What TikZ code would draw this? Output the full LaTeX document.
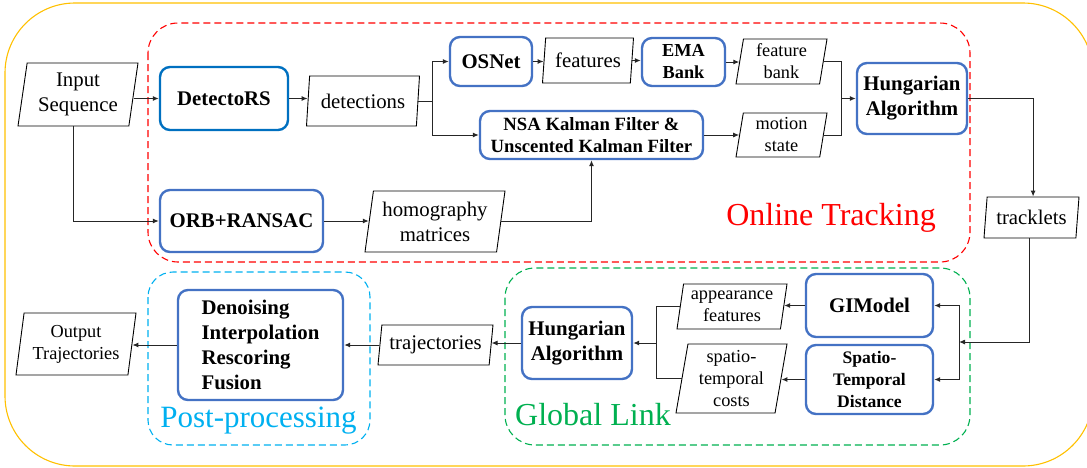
\documentclass[tikz,border=0pt]{standalone}
\usepackage{fontspec}
\setmainfont{Liberation Serif}
\usetikzlibrary{shapes.geometric,arrows.meta,calc}
\definecolor{boxblue}{HTML}{4472C4}
\definecolor{detblue}{HTML}{0070C0}
\definecolor{ored}{HTML}{FF0000}
\definecolor{ggreen}{HTML}{00B050}
\definecolor{pcyan}{HTML}{00B0F0}
\definecolor{oyellow}{HTML}{FFC000}
\newcommand{\fbig}{\fontsize{20.8}{25}\selectfont}
\newcommand{\fsml}{\fontsize{18.3}{22}\selectfont}
\newcommand{\fnsa}{\fontsize{18.7}{22}\selectfont}
\newcommand{\fhuge}{\fontsize{32}{38}\selectfont}
\begin{document}
\begin{tikzpicture}[x=1pt,y=-1pt,
 proc/.style={draw=boxblue, line width=2.4pt, rounded corners=10pt, fill=white, align=center, inner sep=0pt, font=\fbig\bfseries},
 io/.style={draw=black, line width=0.9pt, trapezium, trapezium left angle=78, trapezium right angle=102, trapezium stretches body=true, align=center, inner sep=0pt, font=\fbig},
 arr/.style={-{Latex[length=6pt,width=5pt]}, line width=1pt, draw=black!85},
 ln/.style={line width=1pt, draw=black!85},
 region/.style={dash pattern=on 7pt off 4pt, line width=1.1pt, rounded corners=30pt}
]
\useasboundingbox (0,0) rectangle (1087,467);
% regions
\draw[oyellow, line width=1.1pt, rounded corners=70pt] (5,3) rectangle (1093,466);
\draw[region, ored] (148,23) rectangle (970,262);
\draw[region, ggreen] (505,268) rectangle (970,445);
\draw[region, pcyan, rounded corners=25pt] (148,272) rectangle (370,445);
% labels
\node[font=\fhuge, text=ored, anchor=base, inner sep=0pt] (lonline) at (831,225) {Online Tracking};
\node[font=\fhuge, text=ggreen, anchor=base west, inner sep=0pt] (lglobal) at (515,425) {Global Link};
\node[font=\fontsize{31}{36}\selectfont, text=pcyan, anchor=base, inner sep=0pt] (lpost) at (258.5,427) {Post-processing};
% online tracking nodes
\node[io, minimum width=120pt, minimum height=63pt] (inseq) at (78,94.5) {Input\\Sequence};
\node[proc, draw=detblue, minimum width=128pt, minimum height=63pt] (det) at (224,98.5) {DetectoRS};
\node[proc, minimum width=163pt, minimum height=62pt] (orb) at (241.5,221) {ORB+RANSAC};
\node[io, minimum width=113pt, minimum height=50pt] (dets) at (363,101) {detections};
\node[io, minimum width=140pt, minimum height=61pt] (hom) at (435,221.5) {homography\\matrices};
\node[proc, minimum width=82pt, minimum height=49pt] (osnet) at (491,61.5) {OSNet};
\node[io, minimum width=91pt, minimum height=45pt] (feat) at (588,60.5) {features};
\node[proc, font=\fsml\bfseries, minimum width=83pt, minimum height=48pt] (ema) at (683.5,62) {EMA\\Bank};
\node[io, font=\fsml, minimum width=91pt, minimum height=45pt] (fbank) at (781.5,61.5) {feature\\bank};
\node[proc, font=\fnsa\bfseries, minimum width=223pt, minimum height=48pt] (nsa) at (591.5,135) {NSA Kalman Filter \&\\Unscented Kalman Filter};
\node[io, font=\fsml, minimum width=91pt, minimum height=44pt] (mst) at (781.5,135) {motion\\state};
\node[proc, minimum width=110pt, minimum height=71pt] (hung1) at (912,98.5) {Hungarian\\Algorithm};
\node[io, minimum width=95pt, minimum height=41pt] (trk) at (1031.5,217.5) {tracklets};
% global link nodes
\node[proc, minimum width=127pt, minimum height=63pt] (gim) at (869.5,305.5) {GIModel};
\node[proc, font=\fontsize{17.6}{21.7}\selectfont\bfseries, minimum width=127pt, minimum height=69pt] (std) at (869.5,379.5) {Spatio-\\Temporal\\Distance};
\node[io, font=\fsml, minimum width=110pt, minimum height=45pt] (app) at (732,306.5) {appearance\\features};
\node[io, font=\fsml, minimum width=111pt, minimum height=69pt] (stc) at (731.5,378.5) {spatio-\\temporal\\costs};
\node[proc, minimum width=110pt, minimum height=72pt] (hung2) at (577,343) {Hungarian\\Algorithm};
\node[io, minimum width=115pt, minimum height=40pt] (traj) at (435.5,345) {trajectories};
% post-processing
\node[proc, align=left, minimum width=165pt, minimum height=110pt] (post) at (260.5,345) {Denoising\\Interpolation\\Rescoring\\Fusion};
\node[io, font=\fsml, minimum width=120pt, minimum height=62pt] (out) at (76,344) {Output\\Trajectories};
% junctions
\coordinate (j1) at (432,101);
\coordinate (j2) at (841,98.5);
\coordinate (j3) at (959,342);
\coordinate (j4) at (656,343);
% connectors
\draw[arr] (det.west -| inseq.right side) -- (det.west);
\draw[arr] (inseq.bottom side) |- (orb.west);
\draw[arr] (det.east) -- (det.east -| dets.left side);
\draw[ln] (dets.right side) -- (j1);
\draw[arr] (j1) |- (osnet.west);
\draw[arr] (j1) |- (nsa.west);
\draw[arr] (osnet.east) -- (osnet.east -| feat.left side);
\draw[arr] (feat.right side) -- (feat.right side -| ema.west);
\draw[arr] (ema.east) -- (ema.east -| fbank.left side);
\draw[arr] (nsa.east) -- (nsa.east -| mst.left side);
\draw[ln] (fbank.right side) -| (j2);
\draw[ln] (mst.right side) -| (j2);
\draw[arr] (j2) -- (hung1.west);
\draw[arr] (orb.east) -- (orb.east -| hom.left side);
\draw[arr] (hom.right side) -| (nsa.south);
\draw[arr] (hung1.east) -| (trk.top side);
\draw[arr] (trk.bottom side) |- (j3);
\draw[arr] (j3) |- (gim.east);
\draw[arr] (j3) |- (std.east);
\draw[arr] (gim.west) -- (gim.west -| app.right side);
\draw[arr] (std.west) -- (std.west -| stc.right side);
\draw[ln] (app.left side) -| (j4);
\draw[ln] (stc.left side) -| (j4);
\draw[arr] (j4) -- (hung2.east);
\draw[arr] (hung2.west) -- (hung2.west -| traj.right side);
\draw[arr] (traj.left side) -- (traj.left side -| post.east);
\draw[arr] (post.west) -- (post.west -| out.right side);
\end{tikzpicture}
\end{document}
